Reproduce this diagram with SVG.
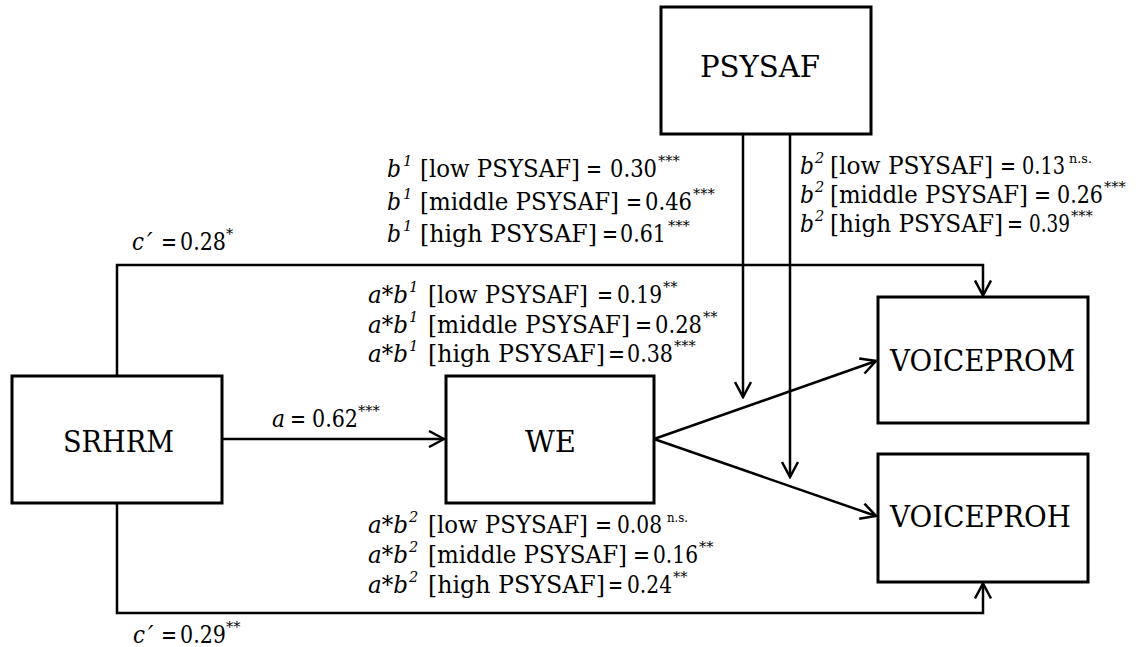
<svg xmlns="http://www.w3.org/2000/svg" width="1136" height="647" viewBox="0 0 1136 647">
<style>
  .box { fill: #ffffff; stroke: #000000; stroke-width: 3; }
  .bt { font-family: 'DejaVu Serif', 'Liberation Serif', serif; font-size: 29px; fill: #000; }
  .lbl { font-family: 'DejaVu Serif', 'Liberation Serif', serif; font-size: 24.5px; fill: #000; }
  .it { font-style: italic; }
  .sup { font-size: 14.5px; }
  .ns { font-size: 13.5px; }
  .conn { fill: none; stroke: #000000; stroke-width: 2.5; }
</style>
<defs>
  <marker id="arr" viewBox="0 0 18 18" refX="16" refY="9" markerWidth="18" markerHeight="18" markerUnits="userSpaceOnUse" orient="auto">
    <path d="M1,1 L16,9 L1,17" fill="none" stroke="#000" stroke-width="2.5" stroke-linejoin="miter"/>
  </marker>
</defs>
<rect width="1136" height="647" fill="#ffffff"/>

<g id="connectors">
  <path class="conn" d="M222,439 L444,439" marker-end="url(#arr)"/>
  <path class="conn" d="M654,439 L876,361" marker-end="url(#arr)"/>
  <path class="conn" d="M654,439 L876,516" marker-end="url(#arr)"/>
  <path class="conn" d="M117,376 L117,265 L983,265 L983,295.5" marker-end="url(#arr)"/>
  <path class="conn" d="M117,503 L117,613 L983,613 L983,583.5" marker-end="url(#arr)"/>
  <path class="conn" d="M743,134 L743,397" marker-end="url(#arr)"/>
  <path class="conn" d="M790,134 L790,477" marker-end="url(#arr)"/>
</g>

<g id="node-psysaf">
  <rect class="box" x="661" y="7" width="210" height="127"/>
  <text class="bt" x="700" y="77" textLength="120" lengthAdjust="spacingAndGlyphs">PSYSAF</text>
</g>
<g id="node-srhrm">
  <rect class="box" x="12" y="376" width="210" height="127"/>
  <text class="bt" x="63" y="452" textLength="111" lengthAdjust="spacingAndGlyphs">SRHRM</text>
</g>
<g id="node-we">
  <rect class="box" x="446" y="376" width="208" height="127"/>
  <text class="bt" x="525" y="452" textLength="51" lengthAdjust="spacingAndGlyphs">WE</text>
</g>
<g id="node-voiceprom">
  <rect class="box" x="878" y="297" width="210" height="126"/>
  <text class="bt" x="890" y="371" textLength="185" lengthAdjust="spacingAndGlyphs">VOICEPROM</text>
</g>
<g id="node-voiceproh">
  <rect class="box" x="878" y="454" width="210" height="128"/>
  <text class="bt" x="890" y="527" textLength="181" lengthAdjust="spacingAndGlyphs">VOICEPROH</text>
</g>

<g id="labels">
  <text class="lbl" y="250"><tspan x="132" class="it" textLength="12" lengthAdjust="spacingAndGlyphs">c</tspan><tspan x="147" class="it">′</tspan><tspan x="161" textLength="16" lengthAdjust="spacingAndGlyphs">=</tspan><tspan x="180" textLength="46" lengthAdjust="spacingAndGlyphs">0.28</tspan><tspan class="sup" dy="-11">*</tspan></text>
  <text class="lbl" y="643"><tspan x="133" class="it" textLength="12" lengthAdjust="spacingAndGlyphs">c</tspan><tspan x="148" class="it">′</tspan><tspan x="161" textLength="16" lengthAdjust="spacingAndGlyphs">=</tspan><tspan x="180" textLength="46" lengthAdjust="spacingAndGlyphs">0.29</tspan><tspan class="sup" dy="-11">**</tspan></text>
  <text class="lbl" y="427"><tspan x="272" class="it" textLength="13" lengthAdjust="spacingAndGlyphs">a</tspan><tspan x="290" textLength="16" lengthAdjust="spacingAndGlyphs">=</tspan><tspan x="312" textLength="46" lengthAdjust="spacingAndGlyphs">0.62</tspan><tspan class="sup" dy="-11">***</tspan></text>

  <text class="lbl" y="177"><tspan x="387" class="it" textLength="14" lengthAdjust="spacingAndGlyphs">b</tspan><tspan class="sup it" dx="2" dy="-11">1</tspan><tspan x="420" dy="11" textLength="160" lengthAdjust="spacingAndGlyphs">[low PSYSAF]</tspan><tspan x="586" textLength="16" lengthAdjust="spacingAndGlyphs">=</tspan><tspan x="610" textLength="47" lengthAdjust="spacingAndGlyphs">0.30</tspan><tspan class="sup" dx="1" dy="-11">***</tspan></text>
  <text class="lbl" y="210"><tspan x="387" class="it" textLength="14" lengthAdjust="spacingAndGlyphs">b</tspan><tspan class="sup it" dx="2" dy="-11">1</tspan><tspan x="420" dy="11" textLength="199" lengthAdjust="spacingAndGlyphs">[middle PSYSAF]</tspan><tspan x="626" textLength="16" lengthAdjust="spacingAndGlyphs">=</tspan><tspan x="645" textLength="47" lengthAdjust="spacingAndGlyphs">0.46</tspan><tspan class="sup" dx="1" dy="-11">***</tspan></text>
  <text class="lbl" y="242"><tspan x="387" class="it" textLength="14" lengthAdjust="spacingAndGlyphs">b</tspan><tspan class="sup it" dx="2" dy="-11">1</tspan><tspan x="420" dy="11" textLength="177" lengthAdjust="spacingAndGlyphs">[high PSYSAF]</tspan><tspan x="602" textLength="16" lengthAdjust="spacingAndGlyphs">=</tspan><tspan x="620" textLength="46" lengthAdjust="spacingAndGlyphs">0.61</tspan><tspan class="sup" dx="2" dy="-11">***</tspan></text>

  <text class="lbl" y="174"><tspan x="800" class="it" textLength="14" lengthAdjust="spacingAndGlyphs">b</tspan><tspan class="sup it" dx="1" dy="-11">2</tspan><tspan x="830" dy="11" textLength="163" lengthAdjust="spacingAndGlyphs">[low PSYSAF]</tspan><tspan x="1000" textLength="16" lengthAdjust="spacingAndGlyphs">=</tspan><tspan x="1022" textLength="43" lengthAdjust="spacingAndGlyphs">0.13</tspan><tspan class="ns" dx="4" dy="-11" textLength="23" lengthAdjust="spacingAndGlyphs">n.s.</tspan></text>
  <text class="lbl" y="203"><tspan x="800" class="it" textLength="14" lengthAdjust="spacingAndGlyphs">b</tspan><tspan class="sup it" dx="1" dy="-11">2</tspan><tspan x="830" dy="11" textLength="198" lengthAdjust="spacingAndGlyphs">[middle PSYSAF]</tspan><tspan x="1034" textLength="17" lengthAdjust="spacingAndGlyphs">=</tspan><tspan x="1057" textLength="46" lengthAdjust="spacingAndGlyphs">0.26</tspan><tspan class="sup" dx="1" dy="-11">***</tspan></text>
  <text class="lbl" y="232"><tspan x="800" class="it" textLength="14" lengthAdjust="spacingAndGlyphs">b</tspan><tspan class="sup it" dx="1" dy="-11">2</tspan><tspan x="830" dy="11" textLength="173" lengthAdjust="spacingAndGlyphs">[high PSYSAF]</tspan><tspan x="1007" textLength="16" lengthAdjust="spacingAndGlyphs">=</tspan><tspan x="1029" textLength="41" lengthAdjust="spacingAndGlyphs">0.39</tspan><tspan class="sup" dx="1" dy="-11">***</tspan></text>

  <text class="lbl" y="303"><tspan x="368" class="it" textLength="40" lengthAdjust="spacingAndGlyphs">a*b</tspan><tspan class="sup it" dx="1" dy="-11">1</tspan><tspan x="428" dy="11" textLength="160" lengthAdjust="spacingAndGlyphs">[low PSYSAF]</tspan><tspan x="597" textLength="16" lengthAdjust="spacingAndGlyphs">=</tspan><tspan x="617" textLength="45" lengthAdjust="spacingAndGlyphs">0.19</tspan><tspan class="sup" dx="1" dy="-11">**</tspan></text>
  <text class="lbl" y="333"><tspan x="368" class="it" textLength="40" lengthAdjust="spacingAndGlyphs">a*b</tspan><tspan class="sup it" dx="1" dy="-11">1</tspan><tspan x="428" dy="11" textLength="202" lengthAdjust="spacingAndGlyphs">[middle PSYSAF]</tspan><tspan x="635" textLength="17" lengthAdjust="spacingAndGlyphs">=</tspan><tspan x="655" textLength="47" lengthAdjust="spacingAndGlyphs">0.28</tspan><tspan class="sup" dx="1" dy="-11">**</tspan></text>
  <text class="lbl" y="362"><tspan x="368" class="it" textLength="40" lengthAdjust="spacingAndGlyphs">a*b</tspan><tspan class="sup it" dx="1" dy="-11">1</tspan><tspan x="428" dy="11" textLength="177" lengthAdjust="spacingAndGlyphs">[high PSYSAF]</tspan><tspan x="608" textLength="17" lengthAdjust="spacingAndGlyphs">=</tspan><tspan x="627" textLength="46" lengthAdjust="spacingAndGlyphs">0.38</tspan><tspan class="sup" dx="1" dy="-11">***</tspan></text>

  <text class="lbl" y="533"><tspan x="368" class="it" textLength="40" lengthAdjust="spacingAndGlyphs">a*b</tspan><tspan class="sup it" dx="1" dy="-11">2</tspan><tspan x="428" dy="11" textLength="160" lengthAdjust="spacingAndGlyphs">[low PSYSAF]</tspan><tspan x="595" textLength="17" lengthAdjust="spacingAndGlyphs">=</tspan><tspan x="617" textLength="45" lengthAdjust="spacingAndGlyphs">0.08</tspan><tspan class="ns" dx="5" dy="-11" textLength="21" lengthAdjust="spacingAndGlyphs">n.s.</tspan></text>
  <text class="lbl" y="563"><tspan x="368" class="it" textLength="40" lengthAdjust="spacingAndGlyphs">a*b</tspan><tspan class="sup it" dx="1" dy="-11">2</tspan><tspan x="428" dy="11" textLength="199" lengthAdjust="spacingAndGlyphs">[middle PSYSAF]</tspan><tspan x="633" textLength="17" lengthAdjust="spacingAndGlyphs">=</tspan><tspan x="653" textLength="45" lengthAdjust="spacingAndGlyphs">0.16</tspan><tspan class="sup" dx="1" dy="-11">**</tspan></text>
  <text class="lbl" y="593"><tspan x="368" class="it" textLength="40" lengthAdjust="spacingAndGlyphs">a*b</tspan><tspan class="sup it" dx="1" dy="-11">2</tspan><tspan x="428" dy="11" textLength="177" lengthAdjust="spacingAndGlyphs">[high PSYSAF]</tspan><tspan x="608" textLength="15" lengthAdjust="spacingAndGlyphs">=</tspan><tspan x="627" textLength="45" lengthAdjust="spacingAndGlyphs">0.24</tspan><tspan class="sup" dx="1" dy="-11">**</tspan></text>
</g>
</svg>
